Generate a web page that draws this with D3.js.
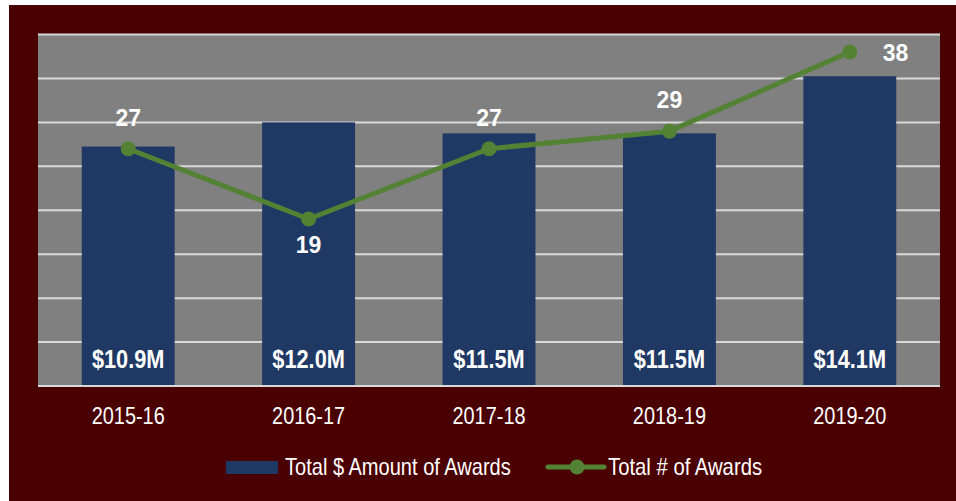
<!DOCTYPE html>
<html>
<head>
<meta charset="utf-8">
<script src="https://cdn.jsdelivr.net/npm/d3@7"></script>
<style>
  html, body { margin: 0; padding: 0; background: #ffffff; }
  svg { display: block; }
</style>
</head>
<body>
<svg id="chart" width="956" height="501"></svg>
<script>
// Fiscal years
const categories = ["2015-16", "2016-17", "2017-18", "2018-19", "2019-20"];
// Total $ amount of awards, millions
const amountValues = [10.9, 12.0, 11.5, 11.5, 14.1];
// Total number of awards
const countValues = [27, 19, 27, 29, 38];
const amountLabels = ["$10.9M", "$12.0M", "$11.5M", "$11.5M", "$14.1M"];
const legendLabels = ["Total $ Amount of Awards", "Total # of Awards"];

const W = 956, H = 501;
const plot = { left: 38, right: 940, top: 34.5, bottom: 386 };

const maroon = "#4a0000", plotGray = "#808080", gridColor = "#d9d9d9";
const barColor = "#1f3864", lineColor = "#548235";
const sans = "'Liberation Sans', Arial, sans-serif";

// Condense a text element horizontally (narrow face look)
function condense(sel, k = 0.82) {
  sel.each(function () {
    const len = this.getComputedTextLength();
    d3.select(this).attr("textLength", len * k).attr("lengthAdjust", "spacingAndGlyphs");
  });
}

const svg = d3.select("#chart");

// Frame
svg.append("rect").attr("x", 9).attr("y", 5).attr("width", W - 9).attr("height", H - 5).attr("fill", maroon);
svg.append("rect")
  .attr("x", plot.left).attr("y", plot.top)
  .attr("width", plot.right - plot.left).attr("height", plot.bottom - plot.top)
  .attr("fill", plotGray);

const x = d3.scaleBand().domain(categories)
  .range([plot.left, plot.right]).paddingInner(0.485).paddingOuter(0.2425);
const yAmt = d3.scaleLinear().domain([0, 16]).range([plot.bottom, plot.top]);
const yCnt = d3.scaleLinear().domain([0, 40]).range([plot.bottom, plot.top]);

// Gridlines
svg.append("g").selectAll("line").data(d3.range(0, 17, 2)).join("line")
  .attr("x1", plot.left).attr("x2", plot.right)
  .attr("y1", d => yAmt(d)).attr("y2", d => yAmt(d))
  .attr("stroke", gridColor).attr("stroke-width", 2);

// Bars
svg.append("g").selectAll("rect").data(amountValues).join("rect")
  .attr("x", (d, i) => x(categories[i]))
  .attr("width", x.bandwidth())
  .attr("y", d => yAmt(d))
  .attr("height", d => yAmt(0) - yAmt(d) - 1)
  .attr("fill", barColor);

// Bar value labels
svg.append("g").selectAll("text").data(amountLabels).join("text")
  .attr("x", (d, i) => x(categories[i]) + x.bandwidth() / 2)
  .attr("y", 368)
  .attr("text-anchor", "middle")
  .attr("fill", "#ffffff")
  .attr("font-family", sans).attr("font-weight", "bold").attr("font-size", 25)
  .text(d => d)
  .call(condense, 0.87);

// Line series
const cx = (i) => x(categories[i]) + x.bandwidth() / 2;
const line = d3.line().x((d, i) => cx(i)).y(d => yCnt(d));
svg.append("path").datum(countValues)
  .attr("d", line).attr("fill", "none")
  .attr("stroke", lineColor).attr("stroke-width", 5).attr("stroke-linejoin", "round");
svg.append("g").selectAll("circle").data(countValues).join("circle")
  .attr("cx", (d, i) => cx(i)).attr("cy", d => yCnt(d)).attr("r", 7.5)
  .attr("fill", lineColor);

// Count labels: below a dip, right of the last point, above otherwise
const n = countValues.length;
svg.append("g").selectAll("text").data(countValues).join("text")
  .each(function (d, i) {
    const t = d3.select(this);
    const isDip = i > 0 && i < n - 1 && d < countValues[i - 1] && d < countValues[i + 1];
    if (i === n - 1) {
      t.attr("x", cx(i) + 33).attr("y", yCnt(d) + 9).attr("text-anchor", "start");
    } else if (isDip) {
      t.attr("x", cx(i)).attr("y", yCnt(d) + 34).attr("text-anchor", "middle");
    } else {
      t.attr("x", cx(i)).attr("y", yCnt(d) - 23).attr("text-anchor", "middle");
    }
  })
  .attr("fill", "#ffffff")
  .attr("font-family", sans).attr("font-weight", "bold").attr("font-size", 23)
  .text(d => d);

// Category axis
const axis = svg.append("g")
  .attr("transform", `translate(0,${plot.bottom})`)
  .call(d3.axisBottom(x).tickSize(0).tickPadding(0));
axis.select(".domain").remove();
axis.selectAll("text")
  .attr("y", 38).attr("dy", null)
  .attr("fill", "#ffffff")
  .attr("font-family", sans).attr("font-size", 24)
  .call(condense, 0.83);

// Legend
const lg = svg.append("g");
lg.append("rect").attr("x", 226).attr("y", 461).attr("width", 52).attr("height", 13).attr("fill", barColor);
lg.append("text").attr("x", 285).attr("y", 475)
  .attr("fill", "#ffffff").attr("font-family", sans).attr("font-size", 24)
  .text(legendLabels[0]).call(condense, 0.835);
lg.append("line").attr("x1", 548).attr("x2", 604).attr("y1", 467).attr("y2", 467)
  .attr("stroke", lineColor).attr("stroke-width", 5).attr("stroke-linecap", "round");
lg.append("circle").attr("cx", 577).attr("cy", 467).attr("r", 7.5).attr("fill", lineColor);
lg.append("text").attr("x", 608).attr("y", 475)
  .attr("fill", "#ffffff").attr("font-family", sans).attr("font-size", 24)
  .text(legendLabels[1]).call(condense, 0.845);
</script>
</body>
</html>
